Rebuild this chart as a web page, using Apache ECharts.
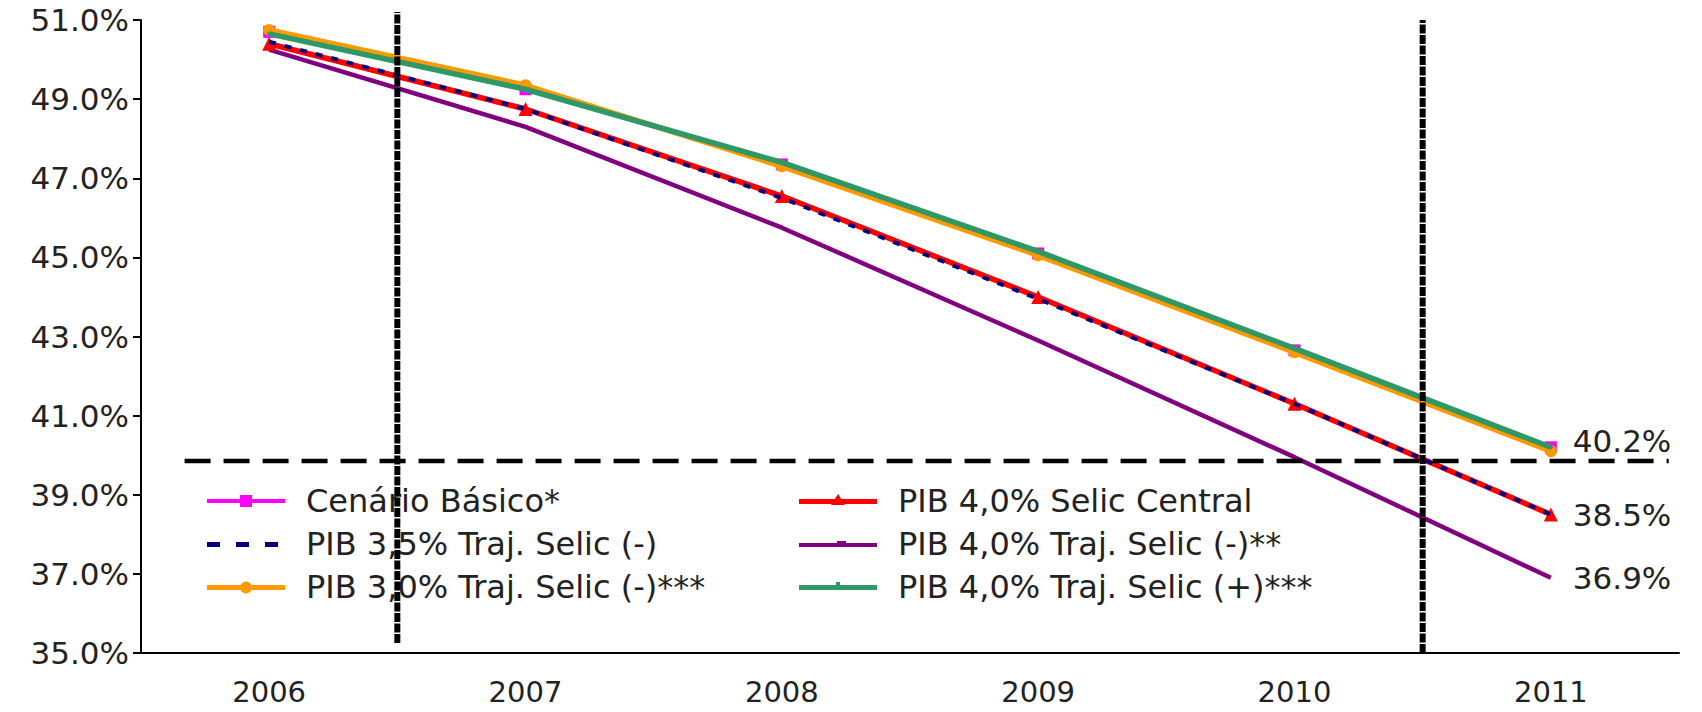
<!DOCTYPE html>
<html><head><meta charset="utf-8">
<script src="https://cdn.jsdelivr.net/npm/echarts@6/dist/echarts.min.js"></script>
<style>html,body{margin:0;padding:0;background:#fff;}#c{width:1702px;height:712px;}</style>
</head><body><div id="c"></div>
<script>
const years = ['2006','2007','2008','2009','2010','2011'];
const basico  = [50.70, 49.25, 47.35, 45.10, 42.65, 40.20];
const pib35   = [50.45, 48.75, 46.50, 43.95, 41.30, 38.50];
const pib30   = [50.75, 49.35, 47.30, 45.05, 42.60, 40.10];
const central = [50.40, 48.75, 46.55, 44.00, 41.30, 38.50];
const minus40 = [50.25, 48.30, 45.75, 42.90, 39.95, 36.90];
const plus40  = [50.65, 49.25, 47.40, 45.15, 42.70, 40.20];
const names = ['Cenário Básico*','PIB 3,5% Traj. Selic (-)','PIB 3,0% Traj. Selic (-)***',
               'PIB 4,0% Selic Central','PIB 4,0% Traj. Selic (-)**','PIB 4,0% Traj. Selic (+)***'];
const dividerX = [0.5, 4.5];
const dividerTop = [51.2, 51.0];
const dividerBottom = [35.25, 35.0];
const thresholdY = 39.85;
const thresholdX = [-0.33, 5.46];

const FONT = 'DejaVu Sans';
const TXT = '#222';
const chart = echarts.init(document.getElementById('c'), null, {renderer:'svg'});
const endLbl = {show:true, distance:22, fontSize:31, fontFamily:FONT, color:TXT,
  formatter: p => p.value.toFixed(1) + '%'};
const series = [
  {name:names[2], type:'line', data:pib30, color:'#FF9900', symbol:'circle', symbolSize:12,
   lineStyle:{width:5.5}, z:3},
  {name:names[5], type:'line', data:plus40, color:'#2E9966', symbol:'diamond', symbolSize:5,
   lineStyle:{width:5.5}, z:4, endLabel:Object.assign({}, endLbl, {offset:[0,-6]})},
  {name:names[0], type:'line', data:basico, color:'#FF00FF', symbol:'rect', symbolSize:12,
   lineStyle:{width:3}, z:2},
  {name:names[3], type:'line', data:central, color:'#FF0000', symbol:'triangle', symbolSize:14,
   lineStyle:{width:5.5}, z:3, endLabel:endLbl},
  {name:names[1], type:'line', data:pib35, color:'#000080', symbol:'none',
   lineStyle:{width:4, type:[7,9]}, z:4},
  {name:names[4], type:'line', data:minus40, color:'#800080', symbol:'none',
   lineStyle:{width:4.5}, z:3, endLabel:endLbl},
];
dividerX.forEach((x,i)=>{
  series.push({type:'line', xAxisIndex:1, data:[[x,dividerBottom[i]],[x,dividerTop[i]]],
    symbol:'none', clip:false, silent:true, color:'#000',
    lineStyle:{width:6, type:[9,1.5], color:'#000'}, z:6});
});
series.push({type:'line', xAxisIndex:1, data:[[thresholdX[0],thresholdY],[thresholdX[1],thresholdY]],
  symbol:'none', silent:true, lineStyle:{width:4.5, type:[26,13], color:'#000'}, z:5});

// legend icons (line + marker), drawn in a 78x16 box
const BOX = 'path://M0,0M78,16';
const icons = [
  BOX + 'M0,6h78v4h-78zM33,2h12v12h-12z',
  BOX + 'M0,6h13v5h-13zM29,6h13v5h-13zM58,6h13v5h-13z',
  BOX + 'M0,6h78v5h-78zM33,8.5a6,6 0 1,1 12,0a6,6 0 1,1 -12,0z',
  BOX + 'M0,6h78v5h-78zM32,12L39,1L46,12z',
  BOX + 'M0,7h78v4h-78zM38,5h9v6h-9z',
  BOX + 'M0,6h78v5h-78zM37,3h4v6h-4z'
];
const legBase = {orient:'vertical', top:479, itemWidth:78, itemHeight:16, itemGap:9,
  textStyle:{fontSize:32, fontFamily:FONT, color:TXT, lineHeight:34, padding:[0,0,0,16]},
  selectedMode:false};
chart.setOption({
  animation:false,
  grid:{left:141, right:23, top:20, bottom:59},
  legend:[
    Object.assign({}, legBase, {left:202, data:[0,1,2].map(i=>({name:names[i], icon:icons[i]}))}),
    Object.assign({}, legBase, {left:794, data:[3,4,5].map(i=>({name:names[i], icon:icons[i]}))})
  ],
  xAxis:[
    {type:'category', data:years, boundaryGap:true,
     axisLine:{onZero:false, lineStyle:{color:'#000', width:2}},
     axisTick:{length:12, lineStyle:{color:'#000', width:2}},
     axisLabel:{fontSize:29, fontFamily:FONT, color:TXT, margin:24}},
    {type:'value', min:-0.5, max:5.5, show:false}
  ],
  yAxis:{type:'value', min:35, max:51, interval:2,
    axisLine:{show:true, onZero:false, lineStyle:{color:'#000', width:2}},
    axisTick:{show:true, length:8, lineStyle:{color:'#000', width:2}},
    splitLine:{show:false},
    axisLabel:{fontSize:31, fontFamily:FONT, color:TXT, margin:12,
      formatter: v => v.toFixed(1) + '%'}},
  series: series
});
</script></body></html>
